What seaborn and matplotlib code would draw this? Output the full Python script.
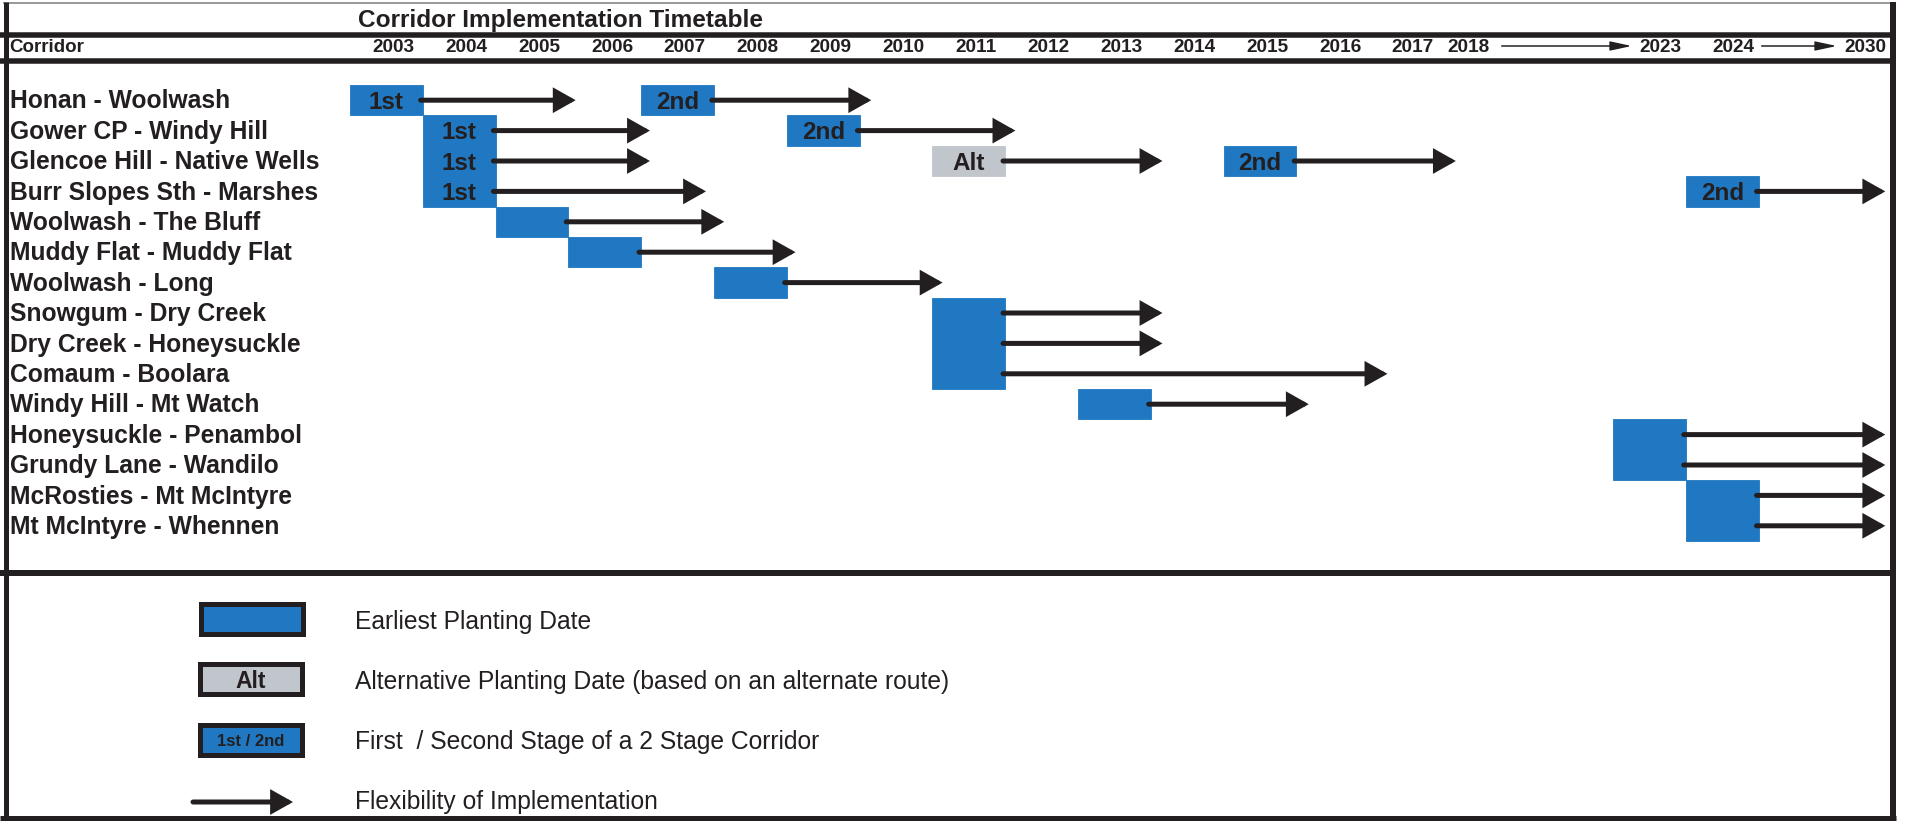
import numpy as np
import matplotlib
matplotlib.use("Agg")
import matplotlib.pyplot as plt
import matplotlib.transforms as mtransforms
from matplotlib.patches import FancyArrowPatch, Rectangle, ArrowStyle
import seaborn as sns

# ---------------- data ----------------
corridors = [
    "Honan - Woolwash", "Gower CP - Windy Hill", "Glencoe Hill - Native Wells",
    "Burr Slopes Sth - Marshes", "Woolwash - The Bluff", "Muddy Flat - Muddy Flat",
    "Woolwash - Long", "Snowgum - Dry Creek", "Dry Creek - Honeysuckle",
    "Comaum - Boolara", "Windy Hill - Mt Watch", "Honeysuckle - Penambol",
    "Grundy Lane - Wandilo", "McRosties - Mt McIntyre", "Mt McIntyre - Whennen",
]
box_row = [0, 0, 1, 1, 2, 2, 2, 3, 3, 4, 5, 6, 7, 8, 9, 10, 11, 12, 13, 14]
box_year = [2003, 2007, 2004, 2009, 2004, 2011, 2015, 2004, 2024, 2005,
            2006, 2008, 2011, 2011, 2011, 2013, 2023, 2023, 2024, 2024]
box_kind = ["1st", "2nd", "1st", "2nd", "1st", "Alt", "2nd", "1st", "2nd", "",
            "", "", "", "", "", "", "", "", "", ""]
arrow_end = [2006.16, 2010.22, 2007.18, 2012.2, 2007.18, 2014.22, 2018.25, 2007.95, 2030.0, 2008.2,
             2009.18, 2011.2, 2014.22, 2014.22, 2017.31, 2016.23, 2030.0, 2030.0, 2030.0, 2030.0]
header_years = ["2003", "2004", "2005", "2006", "2007", "2008", "2009", "2010", "2011",
                "2012", "2013", "2014", "2015", "2016", "2017", "2018", "2023", "2024", "2030"]
legend_labels = ["Earliest Planting Date",
                 "Alternative Planting Date (based on an alternate route)",
                 "First  / Second Stage of a 2 Stage Corridor",
                 "Flexibility of Implementation"]

# ---------------- style ----------------
sns.set_theme(style="white")
plt.rcParams["font.family"] = ["Liberation Sans", "DejaVu Sans"]
BLUE = "#1f78c1"
GREY = "#c1c5cc"
DARK = "#231f20"

W, H, DPI = 1907, 821, 100
PX = 72.0 / DPI  # points per pixel

fig = plt.figure(figsize=(W / DPI, H / DPI), dpi=DPI)
fig.patch.set_facecolor("white")

frame = fig.add_axes([0, 0, 1, 1], zorder=1)
frame.set_xlim(0, W)
frame.set_ylim(H, 0)
frame.axis("off")

ax = fig.add_axes([0, 0, 1, 1], zorder=2)
ax.patch.set_alpha(0)
ax.axis("off")

# compressed time axis (2019-2022 and 2025-2029 squeezed)
KY = np.array([1980.0, 2003.0, 2019.0, 2023.0, 2025.0, 2030.0, 2050.0])
KS = np.array([-23.0, 0.0, 16.0, 17.35, 19.35, 21.11, 28.15])
fwd = lambda x: np.interp(x, KY, KS)
inv = lambda s: np.interp(s, KS, KY)
ax.set_xscale("function", functions=(fwd, inv))
X0, CW = 350.0, 72.8
ax.set_xlim(inv(-X0 / CW), inv((W - X0) / CW))
Y0, RH = 100.2, 30.4
ax.set_ylim((H - Y0) / RH, -Y0 / RH)

# ---------------- frame ----------------
def hline(y, x0, x1, lw, color=DARK):
    frame.plot([x0, x1], [y, y], color=color, lw=lw * PX, solid_capstyle="butt")

def vline(x, y0, y1, lw, color=DARK):
    frame.plot([x, x], [y0, y1], color=color, lw=lw * PX, solid_capstyle="butt")

hline(3, 3, 1893, 2, "#9a9a9a")
vline(5.5, 2, H, 5)
vline(1893, 2, H, 6)
hline(818.5, 0, 1896, 5)
hline(35, 0, 1896, 5.5)
hline(61, 0, 1896, 5.5)
hline(573.5, 0, 1896, 6)

frame.text(560, 27, "Corridor Implementation Timetable", ha="center", va="baseline",
           fontsize=17.6, fontweight="bold", color=DARK)
frame.text(9, 52.5, "Corridor", ha="left", va="baseline", fontsize=13.5,
           fontweight="bold", color=DARK)

# header year labels (x in data, y in pixels)
blend = mtransforms.blended_transform_factory(ax.transData, frame.transData)
for lab in header_years:
    yr = int(lab)
    if yr <= 2017:
        x, ha = yr + 0.6, "center"
    elif yr == 2018:
        x, ha = 2018.37, "center"
    elif yr == 2030:
        x, ha = 2030.0, "right"
    else:
        x, ha = yr + 0.65, "center"
    ax.text(x, 52.5, lab, transform=blend, ha=ha, va="baseline",
            fontsize=13.7, fontweight="bold", color=DARK)

thin_style = ArrowStyle("-|>", head_length=13, head_width=2.8)
for a, b in [((1501.7, 46), (1631.7, 46)), ((1761.7, 46), (1836.7, 46))]:
    frame.add_patch(FancyArrowPatch(a, b, arrowstyle=thin_style, mutation_scale=1,
                                    lw=1.5 * PX, color=DARK, shrinkA=0, shrinkB=0))

# ---------------- corridor labels ----------------
for i, name in enumerate(corridors):
    ax.text(inv((10 - X0) / CW), i + 0.27, name, ha="left", va="baseline",
            fontsize=17.7, fontweight="bold", color=DARK)

# ---------------- boxes ----------------
colors = [GREY if k == "Alt" else BLUE for k in box_kind]
ax.barh(box_row, [1] * len(box_year), left=box_year, height=1.0, color=colors,
        edgecolor=colors, linewidth=0.6, zorder=2)

arrow_style = ArrowStyle("-|>", head_length=11, head_width=6.2)
for r, y0, kind, end in zip(box_row, box_year, box_kind, arrow_end):
    if kind:
        ax.text(y0 + 0.5, r + 0.28, kind, ha="center", va="baseline", fontsize=17.5,
                fontweight="bold", color=DARK, zorder=4)
    ax.add_patch(FancyArrowPatch((y0 + 0.97, r), (end - 0.06, r), arrowstyle=arrow_style,
                                 mutation_scale=1, lw=5 * PX, color=DARK, shrinkA=0,
                                 shrinkB=0, capstyle="round", joinstyle="miter", zorder=3))

# ---------------- legend ----------------
leg_boxes = [(200.5, 604.5, BLUE, ""), (199.5, 664.5, GREY, "Alt"), (199.5, 725.5, BLUE, "1st / 2nd")]
for (x, y, c, t) in leg_boxes:
    frame.add_patch(Rectangle((x, y), 102, 30, facecolor=c, edgecolor=DARK, lw=5 * PX))
    if t == "Alt":
        frame.text(x + 51, y + 23.5, t, ha="center", va="baseline", fontsize=16.5,
                   fontweight="bold", color=DARK)
    elif t:
        frame.text(x + 51, y + 20, t, ha="center", va="baseline", fontsize=12,
                   fontweight="bold", color=DARK)
frame.add_patch(FancyArrowPatch((193, 802), (293, 802), arrowstyle=arrow_style,
                                mutation_scale=1, lw=5 * PX, color=DARK, shrinkA=0,
                                shrinkB=0, capstyle="round", joinstyle="miter"))
for lab, yb in zip(legend_labels, [628.5, 689.5, 749.5, 809.5]):
    frame.text(355, yb, lab, ha="left", va="baseline", fontsize=17.7, color=DARK)

fig.savefig("out.png", dpi=DPI, facecolor="white")
